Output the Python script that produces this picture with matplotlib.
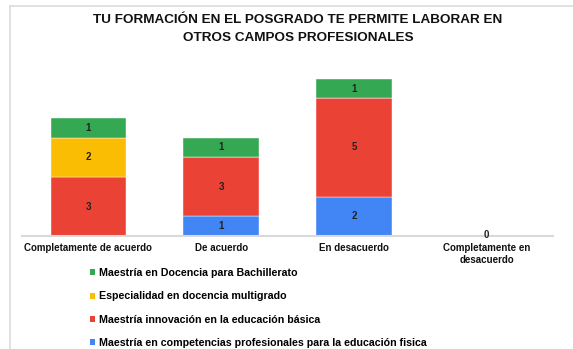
import matplotlib
matplotlib.use("Agg")
import matplotlib.pyplot as plt
from matplotlib.patches import Patch
from matplotlib.lines import Line2D

plt.rcParams['font.family'] = ['Liberation Sans', 'DejaVu Sans']

# Data
categories = ["Completamente de acuerdo", "De acuerdo", "En desacuerdo",
              "Completamente en\ndesacuerdo"]
series_names = [
    "Maestría en competencias profesionales para la educación fisica",
    "Maestría innovación en la educación básica",
    "Especialidad en docencia multigrado",
    "Maestría en Docencia para Bachillerato",
]
educ_fisica = [0, 1, 2, 0]
innovacion = [3, 3, 5, 0]
multigrado = [2, 0, 0, 0]
bachillerato = [1, 1, 1, 0]
series_values = [educ_fisica, innovacion, multigrado, bachillerato]
colors = ["#4285f4", "#ea4335", "#fbbc04", "#34a853"]

W, H = 573, 349
fig = plt.figure(figsize=(W / 100, H / 100), dpi=100)
fig.patch.set_facecolor("white")

# Panel frame lines
fig.add_artist(Line2D([10 / W, 1], [1 - 6 / H, 1 - 6 / H], color="#dcdcdc", lw=1.2))
fig.add_artist(Line2D([10 / W, 10 / W], [0, 1 - 6 / H], color="#dcdcdc", lw=1.2))

ax = fig.add_axes([22 / W, 113 / H, 531 / W, 177 / H])
x = list(range(len(categories)))
bottoms = [0] * len(categories)
for vals, col in zip(series_values, colors):
    ax.bar(x, vals, width=0.57, bottom=bottoms, color=col,
           edgecolor="white", linewidth=0.3)
    for xi, v, b in zip(x, vals, bottoms):
        if v > 0:
            ax.text(xi, b + v / 2, str(v), ha="center", va="center",
                    fontsize=7, fontweight="bold", color="#222222")
    bottoms = [b + v for b, v in zip(bottoms, vals)]

# Zero-total label
for xi, tot in zip(x, bottoms):
    if tot == 0:
        ax.text(xi, 0.05, "0", ha="center", va="center",
                fontsize=7, fontweight="bold", color="#222222")

ax.set_xlim(-0.5, len(categories) - 0.5)
ax.set_ylim(0, 9)
ax.set_xticks(x)
ax.set_xticklabels(categories, fontsize=7, fontweight="bold", color="#111111",
                   linespacing=1.3)
ax.tick_params(axis="x", length=0, pad=5)
ax.set_yticks([])
for s in ["top", "right", "left"]:
    ax.spines[s].set_visible(False)
ax.spines["bottom"].set_color("#d9d9d9")
ax.spines["bottom"].set_linewidth(1.5)

fig.text(298 / W, 1 - 29 / H,
         "TU FORMACIÓN EN EL POSGRADO TE PERMITE LABORAR EN\nOTROS CAMPOS PROFESIONALES",
         ha="center", va="center", fontsize=9.7, fontweight="bold",
         color="#111111", linespacing=1.7)

handles = [Patch(facecolor=c, edgecolor="none") for c in colors[::-1]]
fig.legend(handles, series_names[::-1], loc="upper left",
           bbox_to_anchor=(90 / W, 1 - 268 / H), frameon=False,
           prop={"size": 7.7, "weight": "bold"}, handlelength=0.5,
           handleheight=0.5, handletextpad=0.35, labelspacing=1.25,
           borderpad=0, borderaxespad=0)

fig.savefig("out.png", dpi=100, facecolor="white")
